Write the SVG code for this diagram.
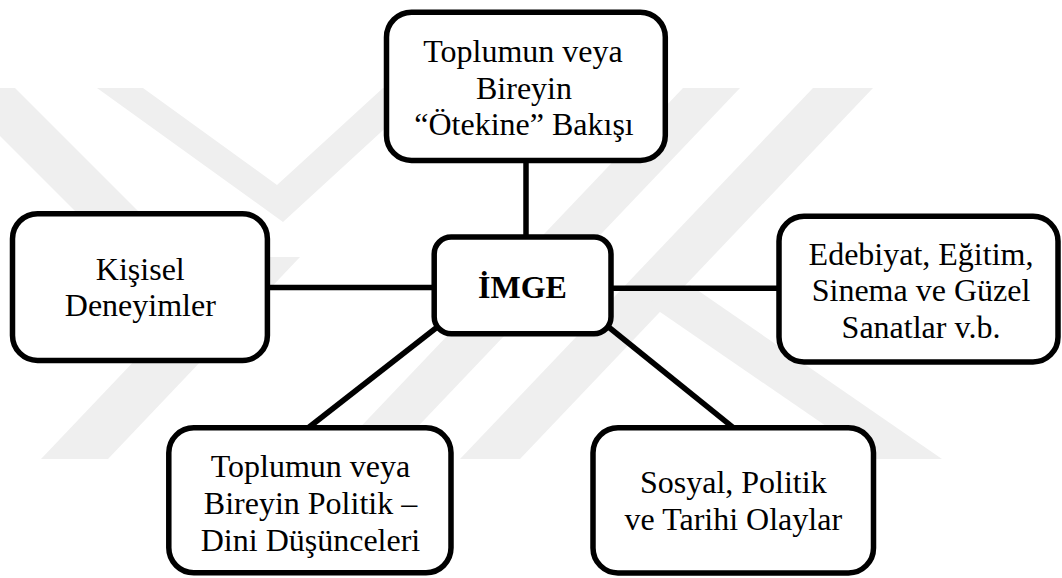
<svg xmlns="http://www.w3.org/2000/svg" width="1062" height="578" viewBox="0 0 1062 578">
  <style>
    .wm { fill: #efefef; stroke: none; }
    .box { fill: #ffffff; stroke: #000000; stroke-width: 5.5; }
    .edge { stroke: #000000; stroke-width: 5.5; fill: none; }
    .lbl { font-family: "Liberation Serif", "Times New Roman", serif; font-size: 32px; fill: #000000; text-anchor: middle; }
    .bold { font-weight: bold; }
  </style>
  <rect x="0" y="0" width="1062" height="578" fill="#ffffff"/>
  <g id="watermark">
    <polygon class="wm" points="-48,88 15,88 257,330 194,330"/>
    <polygon class="wm" points="97,88 143,88 277,185 383,88 429,88 283,222"/>
    <polygon class="wm" points="683,88 740,88 387,459 330,459"/>
    <polygon class="wm" points="813,88 873,88 520,459 460,459"/>
    <polygon class="wm" points="647,303 690,285 942,459 874,459"/>
    <polygon class="wm" points="41,459 108,459 300,257 233,257"/>
  </g>
  <g id="connectors">
    <line class="edge" x1="526" y1="155" x2="526" y2="242"/>
    <line class="edge" x1="262" y1="287.5" x2="440" y2="287.5"/>
    <line class="edge" x1="605" y1="288.3" x2="785" y2="288.3"/>
    <line class="edge" x1="442.4" y1="323" x2="305.4" y2="430"/>
    <line class="edge" x1="603.6" y1="323" x2="737" y2="430.6"/>
  </g>
  <g id="node-top">
    <rect class="box" x="386.5" y="12.2" width="278.8" height="148.3" rx="25" ry="25"/>
    <text class="lbl" x="523" y="62">Toplumun veya</text>
    <text class="lbl" x="524" y="98.5">Bireyin</text>
    <text class="lbl" x="524" y="135">“Ötekine” Bakışı</text>
  </g>
  <g id="node-imge">
    <rect class="box" x="434.2" y="237" width="176.8" height="96.7" rx="17" ry="17"/>
    <text class="lbl bold" x="522.5" y="297.5">İMGE</text>
  </g>
  <g id="node-kisisel">
    <rect class="box" x="12.5" y="213.7" width="254.9" height="146.8" rx="25" ry="25"/>
    <text class="lbl" x="140.3" y="279.5">Kişisel</text>
    <text class="lbl" x="140.3" y="316.3">Deneyimler</text>
  </g>
  <g id="node-edebiyat">
    <rect class="box" x="779" y="216.3" width="279" height="145.7" rx="25" ry="25"/>
    <text class="lbl" x="921" y="264.5">Edebiyat, Eğitim,</text>
    <text class="lbl" x="921" y="301.3">Sinema ve Güzel</text>
    <text class="lbl" x="921" y="338">Sanatlar v.b.</text>
  </g>
  <g id="node-politik-dini">
    <rect class="box" x="168.8" y="427.8" width="282.2" height="145" rx="25" ry="25"/>
    <text class="lbl" x="310.5" y="477">Toplumun veya</text>
    <text class="lbl" x="310.5" y="514">Bireyin Politik –</text>
    <text class="lbl" x="310.5" y="550.7">Dini Düşünceleri</text>
  </g>
  <g id="node-olaylar">
    <rect class="box" x="593" y="427.8" width="280.5" height="145.2" rx="25" ry="25"/>
    <text class="lbl" x="733.3" y="493.3">Sosyal, Politik</text>
    <text class="lbl" x="733.3" y="530">ve Tarihi Olaylar</text>
  </g>
</svg>
